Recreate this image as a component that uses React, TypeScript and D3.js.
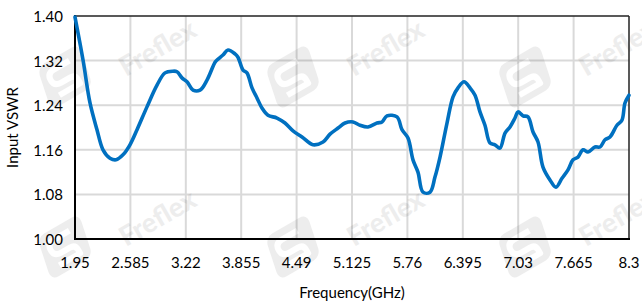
import React from 'react';
import * as d3 from 'd3';

const freqGHz = [
  1.95, 2.042, 2.122, 2.202, 2.271, 2.351, 2.42, 2.5, 2.58, 2.661, 2.775, 2.89, 2.982, 3.073, 3.119,
  3.176, 3.234, 3.303, 3.383, 3.463, 3.555, 3.578, 3.646, 3.704, 3.784, 3.818, 3.876, 3.921, 3.979,
  4.036, 4.093, 4.162, 4.265, 4.357, 4.449, 4.552, 4.678, 4.793, 4.873, 4.965, 5.045, 5.137, 5.217,
  5.308, 5.412, 5.469, 5.526, 5.641, 5.698, 5.767, 5.824, 5.881, 5.939, 6.019, 6.076, 6.134, 6.214,
  6.283, 6.34, 6.409, 6.478, 6.535, 6.592, 6.649, 6.707, 6.764, 6.821, 6.879, 6.936, 6.993, 7.028,
  7.085, 7.142, 7.2, 7.257, 7.314, 7.394, 7.463, 7.532, 7.601, 7.658, 7.715, 7.773, 7.83, 7.91,
  7.968, 8.025, 8.082, 8.162, 8.219, 8.254, 8.3,
];

const vswr = [
  1.398, 1.321, 1.244, 1.196, 1.16, 1.145, 1.142, 1.151, 1.169, 1.196, 1.237, 1.276, 1.298, 1.301, 1.3,
  1.289, 1.282, 1.267, 1.267, 1.285, 1.317, 1.321, 1.33, 1.339, 1.332, 1.326, 1.303, 1.298, 1.271,
  1.253, 1.235, 1.222, 1.217, 1.208, 1.194, 1.183, 1.169, 1.174, 1.188, 1.199, 1.208, 1.21, 1.204,
  1.201, 1.208, 1.21, 1.221, 1.219, 1.196, 1.181, 1.142, 1.12, 1.084, 1.084, 1.111, 1.147, 1.208,
  1.255, 1.271, 1.282, 1.271, 1.258, 1.228, 1.204, 1.172, 1.169, 1.163, 1.19, 1.201, 1.217, 1.228,
  1.221, 1.219, 1.192, 1.174, 1.129, 1.106, 1.093, 1.109, 1.124, 1.142, 1.147, 1.16, 1.156, 1.165,
  1.165, 1.178, 1.183, 1.204, 1.213, 1.244, 1.258,
];

const xTicks = [1.95, 2.585, 3.22, 3.855, 4.49, 5.125, 5.76, 6.395, 7.03, 7.665, 8.3];
const xTickLabels = ['1.95', '2.585', '3.22', '3.855', '4.49', '5.125', '5.76', '6.395', '7.03', '7.665', '8.3'];
const yTicks = [1.0, 1.08, 1.16, 1.24, 1.32, 1.4];

// watermark anchor spots (logo centres)
const markX = [65, 293, 525];
const markY = [77, 247];

const W = 642;
const H = 305;
const margin = { top: 16, right: 13, bottom: 66, left: 75 };
const FONT = 'Lato, "Open Sans", sans-serif';

const Watermark = ({ cx, cy }: { cx: number; cy: number }) => (
  <g opacity={0.065}>
    <g transform={`translate(${cx},${cy}) rotate(-30)`}>
      <rect x={-24} y={-22} width={48} height={44} rx={8} fill="#000" transform="skewX(-12)" />
      <path
        d="M12,-12 L-6,-12 Q-14,-12 -14,-4 Q-14,3 -6,3 L4,3 Q10,3 10,9 L10,13 L-14,13"
        fill="none"
        stroke="#fff"
        strokeWidth={6}
        strokeLinejoin="round"
      />
    </g>
    <text
      transform={`translate(${cx + 92},${cy - 30}) rotate(-30)`}
      textAnchor="middle"
      dominantBaseline="central"
      fontFamily={FONT}
      fontWeight={900}
      fontSize={27}
      fill="#000"
    >
      Freflex
    </text>
  </g>
);

const App = () => {
  const innerW = W - margin.left - margin.right;
  const innerH = H - margin.top - margin.bottom;

  const x = d3.scaleLinear().domain([1.95, 8.3]).range([margin.left, margin.left + innerW]);
  const y = d3.scaleLinear().domain([1.0, 1.4]).range([margin.top + innerH, margin.top]);

  const points = freqGHz.map((f, i) => [f, vswr[i]] as [number, number]);
  const line = d3
    .line<[number, number]>()
    .x((d) => x(d[0]))
    .y((d) => y(d[1]))
    .curve(d3.curveCatmullRom.alpha(0.5));

  const x0 = x(1.95);
  const x1 = x(8.3);
  const y0 = y(1.0);
  const y1 = y(1.4);

  return (
    <svg width={W} height={H} style={{ position: 'absolute', left: 0, top: 0, background: '#fff' }}>
      {/* grid */}
      <g stroke="#d9d9d9" strokeWidth={2}>
        {xTicks.slice(1, -1).map((t) => (
          <line key={t} x1={x(t)} x2={x(t)} y1={y1} y2={y0} />
        ))}
        {yTicks.slice(1, -1).map((t) => (
          <line key={t} x1={x0} x2={x1} y1={y(t)} y2={y(t)} />
        ))}
      </g>

      {/* watermarks */}
      {markY.map((my) => markX.map((mx) => <Watermark key={`${mx}-${my}`} cx={mx} cy={my} />))}

      {/* frame */}
      <line x1={x0} x2={x1} y1={y1} y2={y1} stroke="#222" strokeWidth={1.5} />
      <line x1={x1} x2={x1} y1={y1} y2={y0} stroke="#222" strokeWidth={1.5} />
      <line x1={x0} x2={x0} y1={y1 - 1} y2={y0 + 1} stroke="#000" strokeWidth={2} />
      <line x1={x0 - 1} x2={x1 + 1} y1={y0} y2={y0} stroke="#000" strokeWidth={2} />

      {/* series */}
      <path
        d={line(points) || ''}
        fill="none"
        stroke="#0070c0"
        strokeWidth={3.6}
        strokeLinejoin="round"
        strokeLinecap="round"
      />

      {/* tick labels */}
      <g fontFamily={FONT} fontSize={15} fill="#000">
        {yTicks.map((t) => (
          <text key={t} x={x0 - 12} y={y(t)} textAnchor="end" dominantBaseline="central">
            {t.toFixed(2)}
          </text>
        ))}
        {xTicks.map((t, i) => (
          <text key={t} x={x(t)} y={268} textAnchor="middle">
            {xTickLabels[i]}
          </text>
        ))}
      </g>

      {/* axis titles */}
      <text
        x={(x0 + x1) / 2}
        y={298}
        textAnchor="middle"
        fontFamily={FONT}
        fontSize={15}
        fill="#000"
      >
        Frequency(GHz)
      </text>
      <text
        transform={`translate(18,${(y0 + y1) / 2}) rotate(-90)`}
        textAnchor="middle"
        fontFamily={FONT}
        fontSize={15}
        fill="#000"
      >
        Input VSWR
      </text>
    </svg>
  );
};

export default App;
